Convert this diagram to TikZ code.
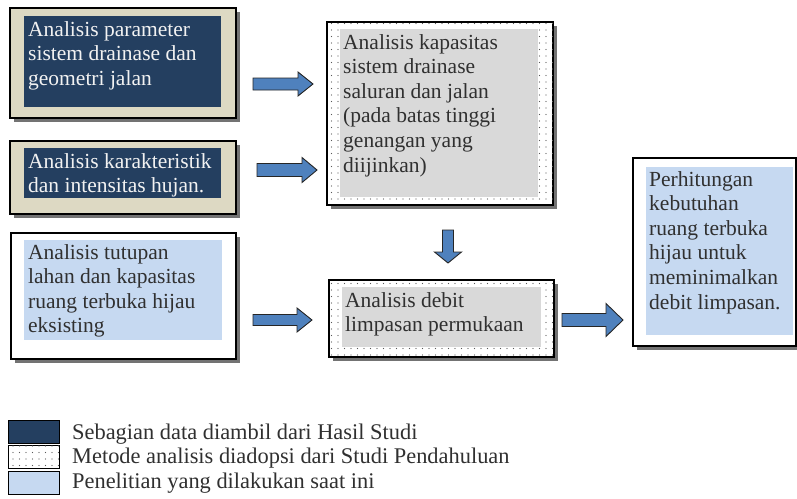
\documentclass[tikz,border=0pt]{standalone}
\usepackage{fontspec}
\setmainfont{Liberation Serif}
\usetikzlibrary{patterns,shadows}
\pgfdeclarepatternformonly{sdots}{\pgfqpoint{-1pt}{-1pt}}{\pgfqpoint{1pt}{1pt}}{\pgfqpoint{6.5pt}{6.5pt}}{\pgfpathcircle{\pgfqpoint{0pt}{0pt}}{0.7pt}\pgfusepath{fill}}
\definecolor{navy}{HTML}{243F60}
\definecolor{beige}{HTML}{DDD9C3}
\definecolor{lblue}{HTML}{C6D9F1}
\definecolor{lgrey}{HTML}{D9D9D9}
\definecolor{arrblue}{HTML}{4F81BD}
\definecolor{txt}{HTML}{303030}
\definecolor{wtxt}{HTML}{F2F2F2}
\begin{document}
\begin{tikzpicture}[x=1pt,y=-1pt,
  outerbox/.style={draw=black, line width=1.6pt, anchor=north west, inner sep=0,
    drop shadow={shadow xshift=4.5pt, shadow yshift=-4.5pt, fill=black!55, opacity=1}},
  dotfill/.style={fill=white, postaction={pattern=sdots, pattern color=black!65}},
  innerbox/.style={anchor=north west, inner sep=0},
  boxtext/.style={anchor=north west, inner sep=0, align=left, font=\fontsize{21.5}{24.6}\selectfont},
  legbox/.style={draw=black, line width=1pt, anchor=north west, inner sep=0, minimum width=51, minimum height=23},
  legtext/.style={anchor=base west, inner sep=0, text=txt, font=\fontsize{22.4}{26}\selectfont},
  arrowsty/.style={draw=black!85, line width=0.9pt, fill=arrblue, line join=miter},
  pics/barrow/.style n args={4}{code={
    \draw[arrowsty] (0,-#2)--(#1-#4,-#2)--(#1-#4,-#3)--(#1,0)--(#1-#4,#3)--(#1-#4,#2)--(0,#2)--cycle;}}
]
\useasboundingbox (0,0) rectangle (797,498);

% Box A
\node[outerbox, fill=beige, minimum width=226, minimum height=110] (A) at (9,7) {};
\node[innerbox, fill=navy, minimum width=197, minimum height=91] (Ai) at (24,16) {};
\node[boxtext, text=wtxt] (At) at (28,21) {Analisis parameter\\sistem drainase dan\\geometri jalan};

% Box B
\node[outerbox, fill=beige, minimum width=226, minimum height=73] (B) at (9,140) {};
\node[innerbox, fill=navy, minimum width=197, minimum height=50] (Bi) at (24,148) {};
\node[boxtext, text=wtxt] (Bt) at (28,153) {Analisis karakteristik\\dan intensitas hujan.};

% Box C
\node[outerbox, fill=white, minimum width=225, minimum height=126] (C) at (10,232) {};
\node[innerbox, fill=lblue, minimum width=198, minimum height=100] (Ci) at (24,240) {};
\node[boxtext, text=txt] (Ct) at (28,244) {Analisis tutupan\\lahan dan kapasitas\\ruang terbuka hijau\\eksisting};

% Box D
\node[outerbox, dotfill, minimum width=226, minimum height=183] (D) at (326,21) {};
\node[innerbox, fill=lgrey, minimum width=198, minimum height=168] (Di) at (340,29) {};
\node[boxtext, text=txt] (Dt) at (343,34) {Analisis kapasitas\\sistem drainase\\saluran dan jalan\\(pada batas tinggi\\genangan yang\\diijinkan)};

% Box E
\node[outerbox, dotfill, minimum width=225, minimum height=77] (E) at (328,279) {};
\node[innerbox, fill=lgrey, minimum width=199, minimum height=60] (Ei) at (342,287) {};
\node[boxtext, text=txt] (Et) at (345,292) {Analisis debit\\limpasan permukaan};

% Box F
\node[outerbox, fill=white, minimum width=163, minimum height=188] (F) at (632,157) {};
\node[innerbox, fill=lblue, minimum width=147, minimum height=168] (Fi) at (646,167) {};
\node[boxtext, text=txt] (Ft) at (649,171) {Perhitungan\\kebutuhan\\ruang terbuka\\hijau untuk\\meminimalkan\\debit limpasan.};

% Block arrows
\pic (ar1) at (253,84) {barrow={60}{6}{12}{15}};
\pic (ar2) at (257,170) {barrow={60}{6.5}{12.5}{15}};
\pic (ar3) at (253,320) {barrow={59}{5.5}{12}{15}};
\pic[rotate=-90] (ar4) at (448,230) {barrow={33}{5.5}{13.5}{11}};
\pic (ar5) at (562,320) {barrow={61}{6.5}{16.5}{17}};

% Legend
\node[legbox, fill=navy] (L1) at (8,420) {};
\node[legbox, dotfill] (L2) at (8,445) {};
\node[legbox, fill=lblue] (L3) at (8,471) {};
\node[legtext] (T1) at (72,439) {Sebagian data diambil dari Hasil Studi};
\node[legtext] (T2) at (72,463) {Metode analisis diadopsi dari Studi Pendahuluan};
\node[legtext] (T3) at (72,488) {Penelitian yang dilakukan saat ini};
\end{tikzpicture}
\end{document}
